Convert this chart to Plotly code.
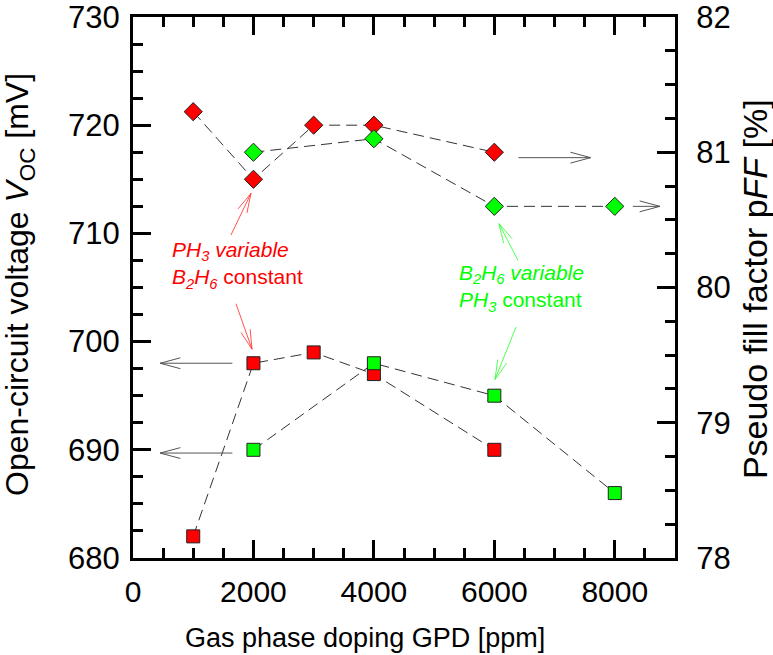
import math
import plotly.graph_objects as go

# Gas phase doping levels [ppm]
gpd_ph3 = [1000, 2000, 3000, 4000, 6000]
gpd_b2h6 = [2000, 4000, 6000, 8000]

# Open-circuit voltage Voc [mV]
voc_ph3 = [682, 698, 699, 697, 690]
voc_b2h6 = [690, 698, 695, 686]

# Pseudo fill factor pFF [%]
pff_ph3 = [81.3, 80.8, 81.2, 81.2, 81.0]
pff_b2h6 = [81.0, 81.1, 80.6, 80.6]

X_RANGE = [0, 9000]
Y1_RANGE = [680, 730]
Y2_RANGE = [78, 82]

W, H = 773, 655
M_L, M_R, M_T, M_B = 133, 98, 17, 97
PW = W - M_L - M_R
PH = H - M_T - M_B
SX = PW / (X_RANGE[1] - X_RANGE[0])   # px per ppm
SY = PH / (Y1_RANGE[1] - Y1_RANGE[0])  # px per mV

FONT = "Liberation Sans, Arial, sans-serif"
RED = "#ff0000"
GREEN = "#00ff00"
DASH_COL = "#333333"

fig = go.Figure()


def series(x, y, color, symbol, size, yaxis):
    fig.add_trace(go.Scatter(
        x=x, y=y, mode="lines+markers", yaxis=yaxis, showlegend=False,
        line=dict(color=DASH_COL, width=1, dash="11px,6px"),
        marker=dict(symbol=symbol, size=size, color=color,
                    line=dict(color="#222222", width=1)),
    ))


series(gpd_ph3, voc_ph3, RED, "square", 13, "y")
series(gpd_b2h6, voc_b2h6, GREEN, "square", 13, "y")
series(gpd_ph3, pff_ph3, RED, "diamond", 14, "y2")
series(gpd_b2h6, pff_b2h6, GREEN, "diamond", 14, "y2")


def arrow_path(x0, y0, x1, y1, head=21, angle=15):
    """Open-chevron arrow from (x0,y0) to (x1,y1) in x / left-y data units."""
    dx = (x1 - x0) * SX
    dy = -(y1 - y0) * SY
    ang = math.atan2(dy, dx)
    pts = []
    for s in (1, -1):
        a = ang + math.pi + s * math.radians(angle)
        bx = x1 + head * math.cos(a) / SX
        by = y1 - head * math.sin(a) / SY
        pts.append((bx, by))
    return (f"M {x0},{y0} L {x1},{y1} "
            f"M {pts[0][0]},{pts[0][1]} L {x1},{y1} L {pts[1][0]},{pts[1][1]}")


def add_arrow(x0, y0, x1, y1, color, head=21, angle=15, width=1):
    fig.add_shape(type="path", xref="x", yref="y",
                  path=arrow_path(x0, y0, x1, y1, head, angle),
                  line=dict(color=color, width=width))


# arrows pointing each series to its axis
GRAY = "#555555"
add_arrow(6400, 717.0, 7600, 717.0, GRAY)
add_arrow(8300, 712.5, 8750, 712.5, GRAY)
add_arrow(1650, 698.0, 450, 698.0, GRAY)
add_arrow(1650, 689.7, 450, 689.7, GRAY)

# arrows from the labels to the series
RED_A = "rgba(255,40,40,0.8)"
GREEN_A = "rgba(40,255,40,0.8)"
add_arrow(1627, 709.85, 1959, 713.7, RED_A, head=20, angle=14)
add_arrow(1710, 703.5, 1976, 699.3, RED_A, head=20, angle=14)
add_arrow(6393, 707.5, 6077, 710.9, GREEN_A, head=20, angle=14)
add_arrow(6360, 701.35, 6011, 696.5, GREEN_A, head=20, angle=14)

fig.add_annotation(
    x=614, y=707.1, xref="x", yref="y", xanchor="left", yanchor="middle",
    showarrow=False, align="left",
    text="<i>PH<sub>3</sub> variable</i><br><i>B<sub>2</sub>H<sub>6</sub></i> constant",
    font=dict(family=FONT, size=21, color=RED),
)
fig.add_annotation(
    x=5380, y=705.0, xref="x", yref="y", xanchor="left", yanchor="middle",
    showarrow=False, align="left",
    text="<i>B<sub>2</sub>H<sub>6</sub> variable</i><br><i>PH<sub>3</sub></i> constant",
    font=dict(family=FONT, size=21, color=GREEN),
)

# axis titles
fig.add_annotation(
    x=-0.2085, y=0.5065, xref="paper", yref="paper", textangle=-90,
    xanchor="center", yanchor="middle", showarrow=False,
    text="Open-circuit voltage <i>V</i><sub>OC</sub> [mV]",
    font=dict(family=FONT, size=32, color="black"),
)
fig.add_annotation(
    x=1.1476, y=0.497, xref="paper", yref="paper", textangle=-90,
    xanchor="center", yanchor="middle", showarrow=False,
    text="Pseudo fill factor p<i>FF</i> [%]",
    font=dict(family=FONT, size=34, color="black"),
)
fig.add_annotation(
    x=0.428, y=-0.148, xref="paper", yref="paper",
    xanchor="center", yanchor="middle", showarrow=False,
    text="Gas phase doping GPD [ppm]",
    font=dict(family=FONT, size=27, color="black"),
)

axis_common = dict(
    showline=True, linecolor="black", linewidth=3,
    ticks="inside", ticklen=18, tickwidth=3, tickcolor="black",
    showgrid=False, zeroline=False, automargin=False,
    ticklabeloverflow="allow",
)
minor_common = dict(ticks="inside", ticklen=10, tickwidth=3, tickcolor="black")

fig.update_layout(
    width=W, height=H,
    margin=dict(l=M_L, r=M_R, t=M_T, b=M_B),
    paper_bgcolor="white", plot_bgcolor="white",
    font=dict(family=FONT, color="black"),
    showlegend=False,
    xaxis=dict(
        range=X_RANGE, dtick=2000, tick0=0, mirror="ticks",
        minor=dict(dtick=500, **minor_common),
        tickfont=dict(family=FONT, size=30, color="black"),
        ticklabelstandoff=5,
        **axis_common,
    ),
    yaxis=dict(
        range=Y1_RANGE, dtick=10, tick0=680,
        minor=dict(dtick=2.5, **minor_common),
        tickfont=dict(family=FONT, size=31, color="black"),
        ticklabelstandoff=4,
        **axis_common,
    ),
    yaxis2=dict(
        range=Y2_RANGE, dtick=1, tick0=78, overlaying="y", side="right",
        minor=dict(dtick=0.25, **minor_common),
        tickfont=dict(family=FONT, size=31, color="black"),
        ticklabelstandoff=12,
        **axis_common,
    ),
)

fig.write_html("out.html")
